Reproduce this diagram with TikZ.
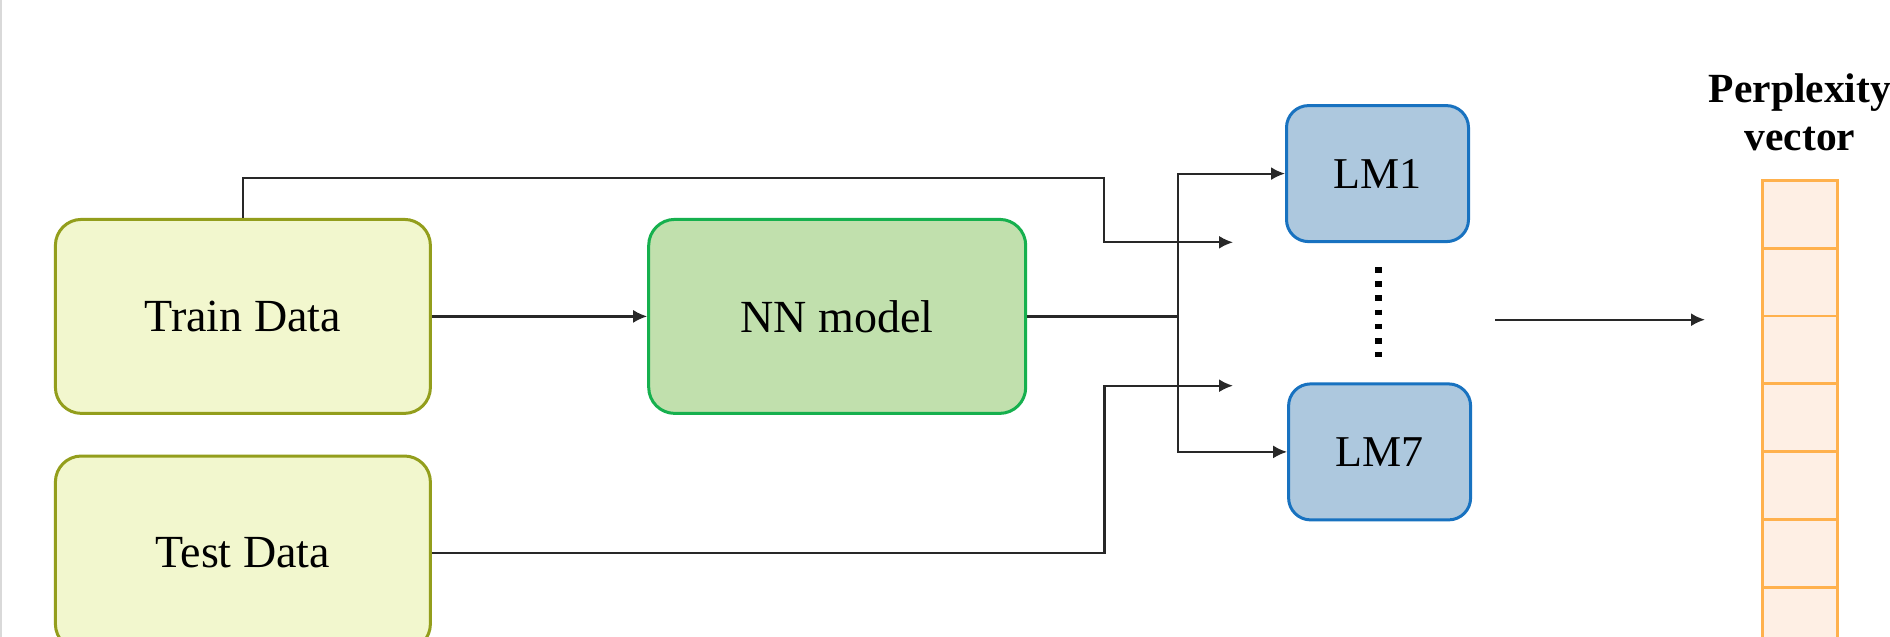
\documentclass[tikz,border=0pt]{standalone}
\usepackage{fontspec}
\setmainfont{Liberation Serif}
\usetikzlibrary{arrows.meta,calc}
\definecolor{dataFill}{RGB}{242,247,206}
\definecolor{dataLine}{RGB}{147,158,28}
\definecolor{nnFill}{RGB}{193,224,173}
\definecolor{nnLine}{RGB}{22,176,78}
\definecolor{lmFill}{RGB}{173,200,222}
\definecolor{lmLine}{RGB}{24,114,192}
\definecolor{vecFill}{RGB}{254,239,228}
\definecolor{vecLine}{RGB}{255,177,77}
\definecolor{connCol}{RGB}{40,40,40}
\begin{document}
\begin{tikzpicture}[x=1pt,y=-1pt,
  boxbase/.style={rectangle,line width=3pt,inner sep=0pt,font=\fontsize{46}{55}\selectfont},
  databox/.style={boxbase,draw=dataLine,fill=dataFill,rounded corners=26pt,minimum width=375pt,minimum height=194pt},
  nnbox/.style={boxbase,draw=nnLine,fill=nnFill,rounded corners=26pt,minimum width=377pt,minimum height=194pt},
  lmbox/.style={boxbase,draw=lmLine,fill=lmFill,rounded corners=22pt,minimum width=182pt,minimum height=136pt,font=\fontsize{44}{52}\selectfont},
  cellbox/.style={rectangle,draw=vecLine,fill=vecFill,line width=2.8pt,minimum width=75.6pt,minimum height=67.8pt,inner sep=0pt},
  wire/.style={draw=connCol,line width=2.2pt},
  arr/.style={wire,-{Latex[length=14pt,width=13pt]}},
  dotline/.style={line width=7pt,dash pattern=on 5.6pt off 8.6pt,black}
]
\useasboundingbox (0,0) rectangle (1890,637);
\clip (0,0) rectangle (1890,637);
\fill[white] (0,0) rectangle (1890,637);
\draw[gray!30,line width=2pt] (1,0) -- (1,637);

% nodes
\node[databox] (train) at (242.9,316.4) {Train Data};
\node[databox] (test) at (242.9,553) {Test Data};
\node[nnbox] (nn) at (837.2,316.4) {NN model};
\node[lmbox] (lm1) at (1377.5,173.6) {LM1};
\node[lmbox] (lm7) at (1379.6,451.9) {LM7};

% perplexity vector
\foreach \i in {0,...,6} {
  \node[cellbox] (c\i) at (1800,{214.2+67.8*\i}) {};
}
\node[font=\bfseries\fontsize{41.5}{48}\selectfont,align=center,inner sep=0pt] (plabel) at (1800,112) {Perplexity\\vector};

% helper coordinates
\coordinate (t1) at (1103.6,178.3);
\coordinate (tEnd) at (1233,242.3);
\coordinate (b1) at (1104.5,385.7);
\coordinate (bEnd) at (1233,385.7);
\coordinate (j) at (1178,318.3);
\coordinate (dTop) at (1378.6,267);
\coordinate (dBot) at (1378.6,357);
\coordinate (aS) at (1495,319.7);
\coordinate (aE) at (1705,319.7);

% connectors
\draw[arr] (train.north) |- (t1) |- (tEnd);
\draw[arr] (train.east) -- (nn.west);
\draw[wire] (nn.east) -- (nn.east -| j);
\draw[arr] (nn.east -| j) |- (lm1.west);
\draw[arr] (nn.east -| j) |- (lm7.west);
\draw[arr] (test.east) -| (b1) -- (bEnd);
\draw[dotline] (dTop) -- (dBot);
\draw[arr] (aS) -- (aE);
\end{tikzpicture}
\end{document}
